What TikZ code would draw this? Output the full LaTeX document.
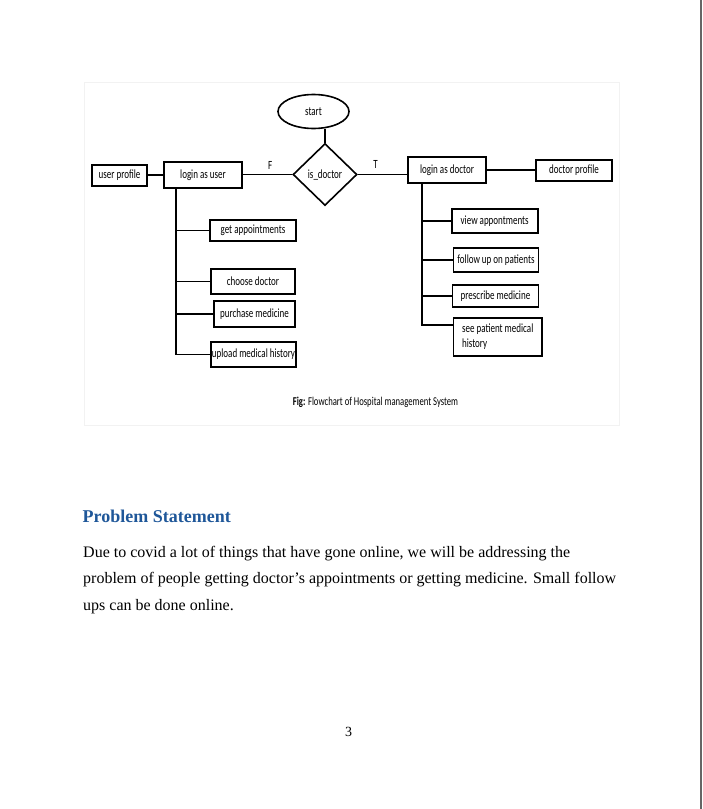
\documentclass[tikz,border=0pt]{standalone}
\usepackage{fontspec}
\setmainfont{Liberation Serif}
\newfontfamily\diagfont[FakeStretch=0.72]{Carlito}
\usepackage{xcolor}
\usetikzlibrary{shapes.geometric,positioning}
\definecolor{headblue}{RGB}{31,87,153}

\begin{document}
\begin{tikzpicture}[
    x=1pt, y=-1pt,
    box/.style={rectangle,draw,line width=1.6pt,font=\diagfont\fontsize{12.5}{13}\selectfont,inner sep=1pt},
    terminal/.style={ellipse,draw,line width=1.6pt,font=\diagfont\fontsize{12.5}{13}\selectfont,minimum width=71pt,minimum height=34pt},
    decision/.style={diamond,draw,line width=1.6pt,font=\diagfont\fontsize{12.5}{13}\selectfont,minimum width=64pt,minimum height=62pt,inner sep=0pt},
    link/.style={line width=1.6pt},
    flag/.style={font=\diagfont\fontsize{12.5}{13}\selectfont},
    caption/.style={font=\diagfont\fontsize{12}{13}\selectfont,anchor=base},
    body/.style={anchor=base west,inner sep=0pt,font=\fontsize{16}{19}\selectfont}
]
\useasboundingbox (0,0) rectangle (702,809);

% Page edge and figure frame
\fill[black!60] (700,0) rectangle (702,809);
\draw[black!5,line width=0.8pt] (84,82) rectangle (619,425);

% Decision
\node[terminal] (start) at (313.5,111.5) {start};
\node[decision] (isdoctor) at (325,174.5) {is\_doctor};

% User side
\node[box,minimum width=78.5pt,minimum height=26.5pt] (loginuser) at (203,175) {login as user};
\node[box,minimum width=55.5pt,minimum height=21.5pt] (userprofile) at (119.5,175.5) {user profile};
\node[box,minimum width=86pt,minimum height=21.5pt] (getappt) at (253,230.5) {get appointments};
\node[box,minimum width=84.5pt,minimum height=25.5pt] (choosedoc) at (253,281.5) {choose doctor};
\node[box,minimum width=81.5pt,minimum height=26pt] (purchase) at (254.5,314) {purchase medicine};
\node[box,minimum width=85.5pt,minimum height=25.5pt] (upload) at (253.5,354.5) {upload medical history};

% Doctor side
\node[box,minimum width=78.5pt,minimum height=26.5pt] (logindoctor) at (447,170) {login as doctor};
\node[box,minimum width=76.5pt,minimum height=21.5pt] (doctorprofile) at (574,170.5) {doctor profile};
\node[box,minimum width=86pt,minimum height=24.5pt] (viewappt) at (494.7,221) {view appontments};
\node[box,minimum width=85pt,minimum height=23.5pt] (followup) at (496,260) {follow up on patients};
\node[box,minimum width=86pt,minimum height=22pt] (prescribe) at (495.5,296) {prescribe medicine};
\node[box,minimum width=88.5pt,minimum height=37.5pt,align=left,
      font=\diagfont\fontsize{12.5}{15}\selectfont] (history) at (497.7,337) {see patient medical\\history};

% Trunks
\coordinate (usertrunk) at ([xshift=-27pt]loginuser.south);
\coordinate (doctortrunk) at ([xshift=-25.3pt]logindoctor.south);

% Lines
\draw[link] (isdoctor.north) -- (isdoctor.north |- start.south);
\draw[link] (isdoctor.west) -- node[flag,pos=0.45,above=1pt] {F} (isdoctor.west -| loginuser.east);
\draw[link] (isdoctor.east) -- node[flag,pos=0.36,above=2pt] {T} (isdoctor.east -| logindoctor.west);
\draw[link] (loginuser.west) -- (loginuser.west -| userprofile.east);
\draw[link] (logindoctor.east) -- (logindoctor.east -| doctorprofile.west);
\draw[link] (usertrunk) |- (getappt.west);
\draw[link] (usertrunk) |- (choosedoc.west);
\draw[link] (usertrunk) |- (purchase.west);
\draw[link] (usertrunk) |- (upload.west);
\draw[link] (doctortrunk) |- (viewappt.west);
\draw[link] (doctortrunk) |- (followup.west);
\draw[link] (doctortrunk) |- (prescribe.west);
\draw[link] (doctortrunk) |- ([yshift=12pt]history.west);

% Caption
\node[caption] (figcap) at (375.5,405) {\textbf{Fig:} Flowchart of Hospital management System};

% Text below
\node[body,font=\bfseries\fontsize{18}{21}\selectfont,text=headblue] (heading) at (82.5,522) {Problem Statement};
\node[body] (line1) at (83,557) {Due to covid a lot of things that have gone online, we will be addressing the};
\node[body] (line2) at (83,583.5) {problem of people getting doctor’s appointments or getting medicine. Small follow};
\node[body] (line3) at (83,610.5) {ups can be done online.};
\node[anchor=base,font=\fontsize{14}{16}\selectfont] (pagenum) at (348.5,736) {3};

\end{tikzpicture}
\end{document}
